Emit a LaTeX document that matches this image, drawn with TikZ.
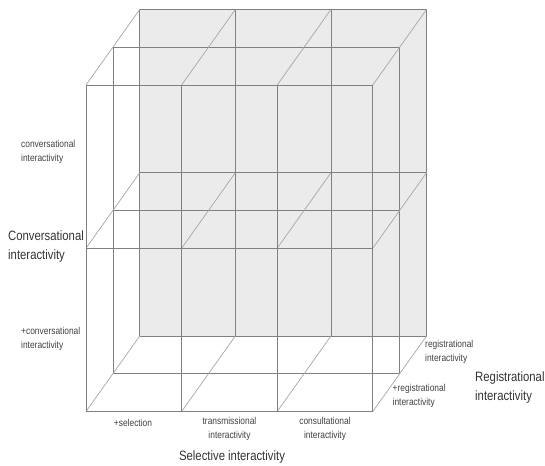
\documentclass[tikz,border=0pt]{standalone}
\usepackage{fontspec}
\setmainfont{Liberation Sans}
\newfontfamily\narrowsans[FakeStretch=0.84]{Liberation Sans}
\usepackage{tikz}
\usetikzlibrary{positioning}
\definecolor{facegray}{HTML}{EBEBEB}
\definecolor{edgegray}{HTML}{808080}
\definecolor{depthgray}{HTML}{A6A6A6}
\tikzstyle{edge} = [draw=edgegray, line width=0.8pt]
\tikzstyle{depth} = [draw=depthgray, line width=0.7pt]
\tikzstyle{lab} = [align=left, text=black!75, inner sep=0pt, font=\narrowsans\fontsize{10}{13.5}\selectfont]
\tikzstyle{axis} = [align=left, text=black!80, inner sep=0pt, font=\narrowsans\fontsize{13.5}{19}\selectfont]

\begin{document}
\begin{tikzpicture}[x=1pt, y=-1pt]
	\useasboundingbox (0,0) rectangle (545,465);
	% back face
	\fill [facegray] (139.8,9.4) rectangle (426.6,335.9);
	\begin{scope}[shift={(53.8,-75.6)}]
		\foreach \i in {0,1,2,3}
			\draw [edge] (86+95.6*\i,85) -- (86+95.6*\i,411.5);
		\foreach \y in {85,248.25,411.5}
			\draw [edge] (86,\y) -- (372.8,\y);
	\end{scope}
	% middle layer
	\begin{scope}[shift={(26.9,-37.8)}]
		\draw [edge] (86,85) rectangle (372.8,411.5);
		\draw [edge] (86,248.25) -- (372.8,248.25);
	\end{scope}
	% depth lines
	\foreach \i in {0,1,2,3}
		\foreach \y in {85,248.25,411.5}
			\draw [depth] (86+95.6*\i,\y) -- ++(53.8,-75.6);
	% front face
	\foreach \i in {0,1,2,3}
		\draw [edge] (86+95.6*\i,85) -- (86+95.6*\i,411.5);
	\foreach \y in {85,248.25,411.5}
		\draw [edge] (86,\y) -- (372.8,\y);
	% labels
	\node (conv1) [lab, anchor=west] at (21,152) {conversational\\interactivity};
	\node (conv0) [axis, anchor=west] at (8,246.5) {Conversational\\interactivity};
	\node (conv2) [lab, anchor=west] at (21,339) {+conversational\\interactivity};
	\node (sel1) [lab] at (133,423) {+selection};
	\node (sel2) [lab, align=center] at (229.5,429) {transmissional\\interactivity};
	\node (sel3) [lab, align=center] at (325,429) {consultational\\interactivity};
	\node (sel0) [axis] at (232,457) {Selective interactivity};
	\node (reg1) [lab, anchor=west] at (425,352) {registrational\\interactivity};
	\node (reg2) [lab, anchor=west] at (392.5,396) {+registrational\\interactivity};
	\node (reg0) [axis, anchor=west] at (475,387.5) {Registrational\\interactivity};
\end{tikzpicture}
\end{document}
